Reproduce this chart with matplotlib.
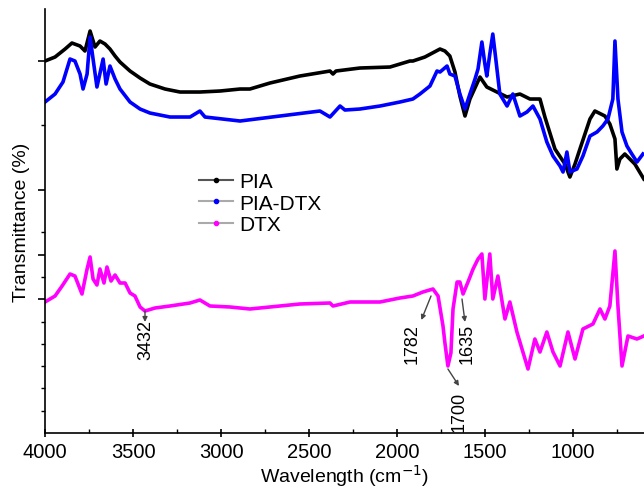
import matplotlib.pyplot as plt
from matplotlib.lines import Line2D

plt.rcParams['font.family'] = ['Liberation Sans', 'DejaVu Sans']

# FTIR spectra, values (offset transmittance, a.u.)
pia_wn = [4000, 3943, 3886, 3847, 3801, 3773, 3744, 3716, 3688, 3659, 3631, 3602, 3574,
          3517, 3460, 3404, 3318, 3233, 3120, 3006, 2892, 2836, 2722, 2552, 2381, 2364,
          2347, 2211, 2040, 1927, 1910, 1842, 1756, 1728, 1700, 1671, 1643, 1614, 1586,
          1529, 1490, 1444, 1375, 1302, 1245, 1188, 1160, 1103, 1046, 1018, 989, 961,
          904, 876, 819, 791, 762, 751, 734, 706, 649, 598]
pia_t = [372, 376, 384, 390, 387, 382, 402, 386, 392, 389, 384, 377, 371,
         362, 355, 349, 344, 341, 341, 342, 344, 344, 350, 357, 362, 359,
         362, 365, 366, 372, 372, 376, 384, 382, 377, 361, 337, 317, 334,
         356, 346, 342, 336, 339, 334, 334, 316, 284, 269, 256, 269, 284,
         314, 322, 317, 309, 294, 264, 274, 279, 269, 254]

piadtx_wn = [4000, 3943, 3898, 3858, 3830, 3801, 3784, 3761, 3744, 3727, 3705, 3670,
             3653, 3631, 3602, 3574, 3517, 3460, 3404, 3290, 3176, 3120, 3091, 2892,
             2665, 2438, 2381, 2324, 2296, 2211, 2097, 1984, 1910, 1870, 1813, 1773,
             1756, 1716, 1700, 1671, 1643, 1614, 1586, 1557, 1540, 1518, 1501, 1490,
             1473, 1456, 1439, 1416, 1375, 1342, 1302, 1262, 1228, 1188, 1149, 1114,
             1074, 1057, 1035, 1018, 978, 944, 904, 864, 831, 802, 774, 762, 745, 722,
             694, 666, 637, 603]
piadtx_t = [331, 339, 351, 374, 372, 359, 344, 359, 396, 374, 346, 374,
            349, 367, 354, 344, 331, 324, 320, 316, 316, 322, 316, 312,
            317, 322, 316, 327, 323, 324, 327, 331, 334, 339, 347, 362,
            361, 367, 359, 357, 339, 324, 339, 354, 364, 391, 369, 357,
            379, 399, 374, 339, 327, 339, 317, 321, 327, 314, 291, 277,
            267, 261, 281, 261, 264, 277, 297, 301, 307, 314, 334, 392, 334, 301,
            287, 279, 271, 279]

dtx_wn = [4000, 3943, 3903, 3858, 3830, 3790, 3761, 3744, 3727, 3705, 3688, 3665,
          3648, 3625, 3602, 3574, 3545, 3517, 3489, 3460, 3432, 3375, 3290, 3176,
          3120, 3063, 2949, 2836, 2552, 2381, 2364, 2267, 2097, 1984, 1910, 1853,
          1796, 1767, 1739, 1728, 1711, 1694, 1682, 1659, 1643, 1625, 1597, 1568,
          1540, 1518, 1501, 1473, 1456, 1427, 1387, 1359, 1319, 1285, 1256, 1217,
          1188, 1149, 1114, 1074, 1029, 989, 944, 887, 847, 819, 791, 762, 745, 722,
          688, 637, 598]
dtx_t = [131, 137, 147, 159, 157, 139, 164, 176, 154, 148, 164, 150,
         166, 152, 158, 150, 150, 140, 137, 126, 122, 125, 127, 130,
         133, 127, 126, 124, 129, 130, 127, 131, 131, 135, 137, 141,
         144, 137, 107, 90, 67, 80, 124, 151, 151, 139, 151, 164,
         174, 179, 134, 179, 134, 157, 114, 131, 101, 81, 64, 94,
         81, 101, 81, 67, 101, 74, 104, 109, 124, 114, 127, 182, 127, 67,
         97, 94, 97]

# labelled DTX bands
peak_labels = ['3432', '1782', '1700', '1635']
peak_arrow_from = [(3432, 122), (1807, 137), (1711, 64), (1631, 134)]
peak_arrow_to = [(3432, 111), (1862, 113), (1648, 47), (1614, 111)]
peak_text_pos = [(3425, 114), (1912, 110), (1650, 42), (1603, 110)]

fig = plt.figure(figsize=(6.44, 4.89), dpi=100)
ax = fig.add_axes([0.0699, 0.1125, 0.9301, 0.867])

ax.plot(pia_wn, pia_t, color='black', lw=2.6)
ax.plot(piadtx_wn, piadtx_t, color='#0000ff', lw=2.6)
ax.plot(dtx_wn, dtx_t, color='#ff00ff', lw=2.6)

for lab, p0, p1, pt in zip(peak_labels, peak_arrow_from, peak_arrow_to, peak_text_pos):
    ax.annotate('', xy=p1, xytext=p0,
                arrowprops=dict(arrowstyle='-|>', color='#444444', lw=1, mutation_scale=7,
                                shrinkA=0, shrinkB=0))
    ax.text(pt[0], pt[1], lab, rotation=90, ha='center', va='top', fontsize=13)

ax.set_xlim(4000, 597)
ax.set_ylim(0, 424)
ax.set_xticks([4000, 3500, 3000, 2500, 2000, 1500, 1000])
ax.set_xticks([3750, 3250, 2750, 2250, 1750, 1250, 750], minor=True)
ax.set_yticks([372, 243, 178, 134])
ax.set_yticks([308, 201, 156, 111, 89, 67, 45, 22], minor=True)
ax.set_yticklabels([])
ax.tick_params(axis='x', which='major', direction='inout', length=6, width=1.2, labelsize=14.5)
ax.tick_params(axis='x', which='minor', direction='in', length=3, width=1)
ax.tick_params(axis='y', which='major', direction='out', length=5, width=1.2)
ax.tick_params(axis='y', which='minor', direction='out', length=3, width=1)
for s in ['top', 'right']:
    ax.spines[s].set_visible(False)
for s in ['left', 'bottom']:
    ax.spines[s].set_linewidth(1.2)

ax.set_xlabel('Wavelength (cm$^{-1}$)', fontsize=14, labelpad=1)
ax.set_ylabel('Transmittance (%)', fontsize=14, labelpad=2)

handles = [Line2D([], [], color='#555555', lw=1.5, marker='o', ms=3, mfc='black', mec='black'),
           Line2D([], [], color='#aaaaaa', lw=1.5, marker='o', ms=3, mfc='#0000ff', mec='#0000ff'),
           Line2D([], [], color='#aaaaaa', lw=1.5, marker='o', ms=3, mfc='#ff00ff', mec='#ff00ff')]
ax.legend(handles, ['PIA', 'PIA-DTX', 'DTX'], loc='upper left', bbox_to_anchor=(0.24, 0.64),
          frameon=False, fontsize=15, handlelength=1.6, handletextpad=0.3, labelspacing=0.12,
          borderpad=0)

fig.savefig('out.png', dpi=100)
